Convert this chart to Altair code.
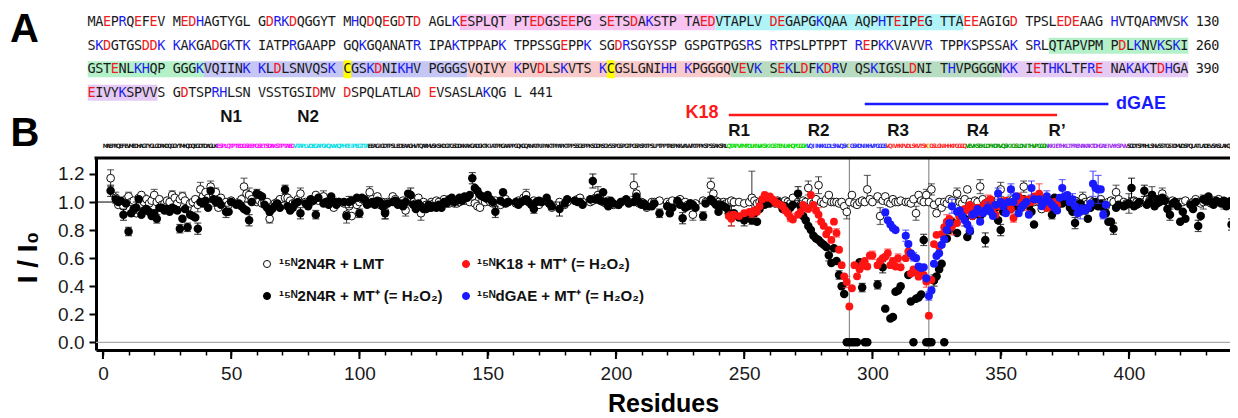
import altair as alt
import pandas as pd

# ---------------- data ----------------
seq_lines = [
    "MAEPRQEFEV MEDHAGTYGL GDRKDQGGYT MHQDQEGDTD AGLKESPLQT PTEDGSEEPG SETSDAKSTP TAEDVTAPLV DEGAPGKQAA AQPHTEIPEG TTAEEAGIGD TPSLEDEAAG HVTQARMVSK",
    "SKDGTGSDDK KAKGADGKTK IATPRGAAPP GQKGQANATR IPAKTPPAPK TPPSSGEPPK SGDRSGYSSP GSPGTPGSRS RTPSLPTPPT REPKKVAVVR TPPKSPSSAK SRLQTAPVPM PDLKNVKSKI",
    "GSTENLKHQP GGGKVQIINK KLDLSNVQSK CGSKDNIKHV PGGGSVQIVY KPVDLSKVTS KCGSLGNIHH KPGGGQVEVK SEKLDFKDRV QSKIGSLDNI THVPGGGNKK IETHKLTFRE NAKAKTDHGA",
    "EIVYKSPVVS GDTSPRHLSN VSSTGSIDMV DSPQLATLAD EVSASLAKQG L",
]
line_ends = ["130", "260", "390", "441"]

region_names = ["N1", "N2", "R1", "R2", "R3", "R4", "R\u2019"]
region_start = [45, 75, 244, 275, 306, 337, 369]
region_end = [74, 103, 274, 305, 336, 368, 399]
region_fill = ["#f8c5f3", "#b0f4f7", "#b4f1c9", "#c6c6f6", "#f8caca", "#b8dcc2", "#e5caf5"]
region_ink = ["#ff00ff", "#00dde6", "#00dd00", "#2b2bff", "#ff2222", "#009a00", "#a030f0"]
cys_res = [291, 322]

# 2N4R + MT+ (filled black), residues 1..441 (None = not observed)
mt_vals = [
    None, None, 1.08, None, 1.02, 1.00, 1.01, 0.91, 0.99, 0.79,
    0.92, 0.95, 0.96, 1.02, 0.91, 0.94, 0.95, 0.93, 0.90, 0.92,
    0.88, 0.96, 0.96, 0.94, 0.95, 0.93, 0.96, 0.95, 0.94, 0.81,
    0.88, 0.95, 0.82, 0.91, 0.90, 0.89, 0.81, 1.00, 0.99, 1.01,
    0.96, 1.08, 1.02, 1.00, 1.01, 0.98, None, 0.93, 0.93, 1.00,
    None, 0.98, 0.99, 0.97, 0.95, 0.94, 0.87, 1.00, None, 1.06,
    1.05, 1.04, 0.98, 0.96, 0.93, 0.95, 0.97, 0.99, 0.96, None,
    1.09, 0.97, 0.94, 0.96, 0.99, 1.00, 0.92, None, 0.99, 0.97,
    1.02, 1.01, 0.91, 1.03, None, 0.99, 1.00, 0.98, 1.04, 1.00,
    0.98, 1.00, None, 1.00, 0.90, 1.00, 1.01, None, 1.03, 0.92,
    1.03, 1.02, 0.98, 0.99, 1.00, 0.98, 1.01, 1.00, 0.97, 0.92,
    0.99, None, 1.00, 1.01, 0.98, 0.99, 0.97, 1.00, 1.06, 1.05,
    0.98, 0.95, 0.99, 0.97, 0.95, 0.95, 0.98, 0.96, 0.97, 0.96,
    0.98, 0.96, 1.00, 0.99, 1.02, 1.03, 1.00, 1.01, 1.03, 1.01,
    1.04, 1.03, 1.05, 1.17, 1.10, 1.08, 1.05, 1.04, 1.03, 1.05,
    1.02, 1.00, 0.93, None, 1.01, 1.07, 0.99, 1.00, None, None,
    1.00, 0.98, 1.00, 1.01, 1.02, 1.00, 0.98, 0.95, 1.00, 1.01,
    1.00, None, 1.03, 0.99, 0.97, None, None, 0.95, None, 0.99,
    1.02, None, None, 1.01, 1.00, 1.00, 0.98, None, None, 1.02,
    1.15, 1.02, 1.03, 1.01, 1.07, 1.00, 0.97, 1.01, 0.99, None,
    0.98, 1.00, None, 1.02, 0.99, None, 1.00, 1.04, 1.00, 0.98,
    0.99, 0.97, None, 0.97, 0.99, None, 0.92, None, None, 0.97,
    0.92, 0.96, None, 1.01, 0.98, 0.885, 0.96, 0.97, 0.99, 0.98,
    0.96, None, None, 0.90, 0.99, None, 1.02, 1.00, 0.98, 0.93,
    0.98, 0.97, 0.96, 0.92, 0.90, 0.92, None, 0.89, None, 0.87,
    None, 0.90, 0.87, 0.92, 0.86, 0.95, 1.00, 0.98, 1.00, 0.99,
    1.01, 1.00, 1.00, 0.98, 0.95, 0.97, 0.94, 0.96, 0.98, None,
    1.06, 0.97, 0.90, 0.87, 0.83, 0.80, 0.76, 0.74, 0.73, 0.71,
    0.695, 0.68, 0.62, 0.565, 0.67, 0.58, 0.48, 0.40, 0.345, 0.0,
    0.0, 0.0, 0.0, 0.0, 0.57, 0.39, 0.0, 0.0, None, None,
    None, 0.41, None, 0.535, 0.24, None, 0.17, 0.18, 0.36, 0.37,
    0.40, None, None, 0.48, 0.29, 0.0, 0.31, 0.32, 0.34, 0.73,
    0.0, 0.0, 0.0, 0.44, 0.47, 0.52, 0.56, 0.0, 0.74, 0.80,
    0.86, None, 0.78, 0.90, 0.92, 0.88, 0.75, 0.79, 0.90, 0.93,
    0.95, 0.90, 0.92, 0.73, 0.95, 0.97, 0.93, 0.96, 0.87, 0.80,
    0.93, 0.96, 0.99, 0.95, 1.00, 0.97, 1.00, 0.96, 1.02, 0.98,
    0.97, 0.93, 0.84, None, 1.02, 0.99, 1.02, 1.00, 1.01, 0.91,
    1.03, 0.98, 1.02, 0.99, 1.01, 1.00, 0.96, 0.93, 0.85, 0.97,
    0.99, 0.96, 0.94, 0.88, 0.96, 0.98, 1.00, 0.97, 0.99, 0.96,
    0.92, 0.86, 0.86, 0.81, 0.96, 0.98, None, 0.97, 0.98, 0.99,
    1.10, 0.97, 0.98, 1.00, None, 1.08, 0.98, 1.00, 1.05, 0.97,
    1.02, 1.00, 1.03, 1.01, 0.95, 0.91, 0.99, 1.00, 0.97, 0.86,
    0.93, 0.88, None, 0.98, 0.95, 1.00, 0.83, 0.90, 1.02, 1.01,
    1.04, 1.00, 0.98, 1.01, 1.00, 0.99, 1.01, 0.97, 1.00, 0.84,
    1.03,
]

# 2N4R + LMT (open circles), residues 1..441
lmt_vals = [
    None, None, 1.17, None, 1.03, 0.98, 1.00, 0.97, 1.02, 1.04,
    1.00, 1.01, 0.92, 1.03, 1.05, 1.00, 1.02, 0.99, 1.01, 1.05,
    1.00, 1.02, 0.98, 0.99, 1.01, 1.00, 1.05, 1.03, 0.99, 1.02,
    1.04, 1.01, 0.96, 0.99, 1.00, 1.02, 0.98, 1.09, 1.04, 1.07,
    1.03, 1.11, 1.05, 1.07, 0.96, 1.03, None, 1.00, 0.98, 1.01,
    None, 0.99, 1.00, 1.02, 1.11, 1.06, 1.05, 1.02, None, 1.00,
    1.01, 0.99, 1.00, 1.00, 0.88, 0.97, 0.99, 1.00, 1.02, None,
    1.03, 1.03, 1.01, 0.99, 1.00, 1.02, 1.06, None, 1.00, 0.98,
    1.00, 1.02, 1.05, 1.01, None, 1.04, 1.00, 0.99, 0.98, 0.96,
    1.00, 1.00, None, 0.99, 0.91, 0.97, 0.90, None, 0.98, 1.00,
    1.02, 1.01, 1.00, 1.07, 1.02, 1.00, 1.04, 0.98, 1.00, 0.93,
    1.00, None, 1.04, 1.02, 1.00, 0.99, 1.01, 0.94, 1.00, 1.02,
    1.00, 0.99, 1.03, 0.92, 1.00, 0.98, 0.96, 1.00, 0.99, 1.01,
    1.00, 0.98, 1.02, 1.00, 0.99, 1.01, 0.99, 0.99, 1.00, 1.02,
    1.01, 1.03, 1.00, 1.04, 0.99, 0.97, 0.96, 1.01, 1.00, 1.02,
    1.00, 0.99, 1.01, None, 0.98, 1.00, 1.02, 1.00, None, None,
    0.99, 1.01, 1.00, 1.03, 1.05, 1.00, 0.99, 1.01, 0.98, 0.98,
    1.00, None, 1.01, 0.99, 0.96, None, None, 1.00, None, 0.98,
    1.00, None, None, 1.01, 1.02, 1.03, 1.00, None, None, 1.00,
    1.01, 1.03, 1.05, 1.02, 1.00, 0.99, 1.01, 1.00, 0.98, None,
    0.98, 1.00, None, 1.01, 1.00, None, 1.12, 1.06, 0.99, 1.00,
    0.98, 0.96, None, 1.00, 1.00, None, 1.01, None, None, 1.00,
    0.99, 1.01, None, 1.00, 1.02, 0.99, 1.00, 0.98, 0.99, 0.91,
    0.99, None, None, 1.01, 1.00, None, 1.12, 1.06, 1.01, 1.00,
    0.99, 1.00, 0.99, 1.00, 1.01, 1.00, None, 1.00, None, 0.99,
    None, 1.00, 1.03, 1.01, 0.99, 1.00, 1.01, 1.00, 0.99, 1.02,
    1.00, 0.99, 1.01, 1.00, 0.98, 1.01, 1.00, 0.99, 1.03, None,
    1.00, 0.98, 1.01, 1.00, 1.10, 1.00, 0.99, 1.02, 1.12, 1.00,
    0.99, 1.02, 1.05, 1.00, 1.00, 1.00, 0.99, 1.00, 0.97, 0.93,
    1.00, 1.05, 0.99, 0.98, 1.00, 1.01, 1.00, 1.09, 1.02, 1.00,
    None, 1.04, 0.90, 1.01, 1.04, 1.00, 0.99, 1.02, 1.00, 1.00,
    1.01, None, 1.00, 1.00, 0.99, 1.02, 0.92, 1.05, 1.01, 1.00,
    1.05, 1.00, 1.09, 0.98, 0.92, 1.00, 0.96, 1.00, 0.99, 1.02,
    1.01, None, 1.06, 1.00, 0.99, 1.02, 1.09, 1.00, 0.98, 1.01,
    1.00, 1.11, 1.02, 0.99, 1.00, 1.01, 0.98, 1.00, 1.02, 1.09,
    1.00, 0.99, 1.01, 1.00, 1.02, 0.99, 1.00, 1.01, 1.11, 1.00,
    0.99, 1.01, 1.00, None, 1.00, 0.95, 1.02, 1.00, 0.99, 1.01,
    1.00, 1.02, 0.99, 1.00, 1.01, 1.00, 0.98, 1.00, 1.01, 0.99,
    1.00, 1.03, 1.00, 0.99, 1.01, 1.00, 0.98, 1.00, 1.02, 0.99,
    0.97, 1.00, 1.01, 1.00, 1.07, 1.02, None, 1.00, 0.99, 0.99,
    1.00, 1.01, 1.00, 0.99, None, 1.00, 1.02, 1.01, 1.05, 1.00,
    0.99, 1.01, 1.06, 1.02, 1.00, 0.99, 1.01, 1.00, 0.99, 1.00,
    1.00, 1.01, None, 0.99, 1.00, 1.02, 1.00, 0.99, 1.00, 1.01,
    1.00, 0.99, 1.01, 1.00, 1.02, 1.00, 0.99, 0.98, 1.00, 1.01,
    1.00,
]

# K18 + MT+ (red), residues 244..372
k18_first = 244
k18_vals = [
    0.90, 0.88, 0.91, None, 0.90, None, 0.92,
    None, 0.93, 0.92, 0.94, 0.93, 0.97, 1.02, 1.05, 1.03, 1.04,
    1.02, 1.00, 0.99, 0.98, 0.97, 0.94, 0.92, 0.89, 0.875, None,
    0.91, 0.93, 0.98, 0.96, 0.95, 1.05, 0.98, 0.94, 0.91, 0.86,
    0.83, 0.77, 0.80, 0.73, 0.86, 0.78, 0.66, 0.55, 0.47, 0.43,
    0.255, 0.385, 0.55, 0.47, 0.52, 0.55, 0.58, 0.54, 0.62, 0.62,
    None, 0.55, 0.58, 0.60, 0.61, 0.635, 0.55, 0.58, 0.54, 0.60,
    0.535, None, 0.60, 0.647, 0.49, 0.52, 0.50, 0.468, 0.49, 0.48,
    0.433, 0.19, 0.445, 0.70, 0.766, 0.683, 0.77, 0.82, 0.86, 0.88,
    0.826, None, 0.85, 0.90, 0.93, 0.95, 0.94, 0.98, 0.90, 0.95,
    0.96, 0.92, 0.97, 0.99, 1.00, 1.02, 0.96, 0.91, 0.97, 1.00,
    0.98, 1.01, 0.99, 0.95, 0.886, 1.00, 1.04, 1.02, 0.99, 0.99,
    1.02, 1.00, 1.04, None, 1.06, 1.02, 0.99, 0.957, 1.00, 0.97,
    1.00, 0.98,
]

# dGAE + MT+ (blue), residues 297..391
dgae_first = 297
dgae_vals = [
    None, None, None, None,
    None, None, None, None, 0.926, 0.87, 0.84, 0.815, 0.80, None,
    None, None, 0.76, 0.70, 0.635, 0.61, 0.60, 0.54, 0.53, 0.535,
    0.456, 0.33, 0.37, 0.56, 0.615, 0.635, 0.695, 0.735, 0.80, 0.85,
    0.97, None, 0.93, 0.94, 0.90, 0.87, 0.84, 0.80, 0.91, 0.92,
    0.95, 0.86, 0.92, 0.94, 0.96, 0.93, 0.90, 0.98, 1.06, 1.00,
    0.97, 0.92, 1.00, 1.09, 1.00, 1.04, 0.92, 0.96, 0.98, 1.00,
    0.91, 1.10, 1.02, None, 1.02, 0.97, 1.00, 1.04, 1.00, 0.98,
    0.96, 0.94, 1.03, 1.10, 1.04, 1.05, 1.00, 1.02, 0.97, 0.92,
    0.93, 0.95, 0.94, 0.96, 0.99, 1.13, 1.10, 1.09, 1.09, 0.91,
    0.98,
]

# error bars (residue, +/- error)
lmt_err_res = [3, 5, 10, 16, 20, 27, 31, 37, 38, 42, 44, 55, 57, 65, 77, 86, 95, 104, 110, 118,
               124, 144, 165, 193, 207, 208, 230, 237, 253, 275, 279, 290, 298, 303, 317, 321, 323, 333, 342, 350,
               359, 382, 395, 400, 409, 413, 429, 437]
lmt_err = [0.06, 0.04, 0.03, 0.05, 0.04, 0.03, 0.03, 0.05, 0.05, 0.04, 0.03, 0.06, 0.05, 0.03, 0.04, 0.04, 0.06, 0.04, 0.05, 0.04,
           0.05, 0.03, 0.04, 0.06, 0.08, 0.05, 0.04, 0.05, 0.19, 0.05, 0.06, 0.05, 0.10, 0.06, 0.05, 0.04, 0.04, 0.04, 0.05, 0.05,
           0.04, 0.04, 0.05, 0.07, 0.06, 0.04, 0.05, 0.04]
mt_err_res = [3, 8, 10, 13, 21, 30, 33, 37, 44, 48, 57, 60, 71, 77, 83, 96, 100, 110, 120, 144,
              153, 168, 178, 191, 217, 226, 234, 245, 250, 271, 283, 287, 296, 302, 304, 320, 324, 336, 344, 350,
              370, 379, 394, 401, 406, 416, 427, 440]
mt_err = [0.04, 0.04, 0.03, 0.04, 0.03, 0.03, 0.03, 0.04, 0.03, 0.04, 0.04, 0.03, 0.03, 0.04, 0.03, 0.04, 0.03, 0.04, 0.05, 0.04,
          0.04, 0.03, 0.05, 0.05, 0.03, 0.04, 0.03, 0.07, 0.04, 0.05, 0.04, 0.03, 0.03, 0.03, 0.04, 0.04, 0.04, 0.05, 0.05, 0.04,
          0.03, 0.04, 0.04, 0.07, 0.04, 0.04, 0.04, 0.04]
k18_err_res = [245, 253, 262, 268, 279, 286, 290, 296, 300, 306, 310, 321, 329, 331, 340, 345, 350, 355, 360, 365]
k18_err = [0.05, 0.03, 0.03, 0.03, 0.05, 0.03, 0.04, 0.03, 0.03, 0.03, 0.03, 0.04, 0.05, 0.06, 0.03, 0.05, 0.03, 0.03, 0.05, 0.07]
dgae_err_res = [313, 316, 322, 331, 338, 345, 349, 354, 362, 368, 374, 378, 381, 386, 388, 390]
dgae_err = [0.04, 0.03, 0.03, 0.05, 0.03, 0.04, 0.04, 0.04, 0.05, 0.04, 0.06, 0.04, 0.05, 0.09, 0.10, 0.03]

legend_labels = ["\u00b9\u2075\u1d3a2N4R + LMT", "\u00b9\u2075\u1d3a2N4R + MT\u207a (= H\u2082O\u2082)",
                 "\u00b9\u2075\u1d3aK18 + MT\u207a (= H\u2082O\u2082)", "\u00b9\u2075\u1d3adGAE + MT\u207a (= H\u2082O\u2082)"]

construct_names = ["K18", "dGAE"]
construct_start = [244, 297]
construct_end = [372, 392]

# ---------------- layout helpers ----------------
W, H = 1134, 192
PX_PER_RES = 2.565
X0 = -2.7
X1 = X0 + W / PX_PER_RES
Y0, Y1 = -0.055, 1.314
xs = alt.Scale(domain=[X0, X1], nice=False, zero=False)
ys = alt.Scale(domain=[Y0, Y1], nice=False, zero=False)
FONT = "Liberation Sans, Arial, sans-serif"

x_axis = alt.Axis(values=list(range(0, 431, 10)), labelExpr="datum.value % 50 === 0 ? datum.label : ''",
                  labelOverlap=False, tickSize=5, tickWidth=1.5, tickColor="black", domainColor="black",
                  domainWidth=3, labelFontSize=19, labelColor="#1a1a1a", labelPadding=9, grid=False,
                  title="Residues", titleFontSize=25, titleFontWeight="bold", titleY=61,
                  titleBaseline="alphabetic", titleColor="black", labelFont=FONT, titleFont=FONT)
y_axis = alt.Axis(values=[0, 0.2, 0.4, 0.6, 0.8, 1.0, 1.2], format=".1f", tickSize=7, tickWidth=2,
                  tickColor="black", domainColor="black", domainWidth=3, labelFontSize=19, labelPadding=5,
                  labelColor="#1a1a1a", grid=False, title="I / I\u2080", titleFontSize=28,
                  titleFontWeight="bold", titleAngle=270, titleX=-68, titleY=99, titleAlign="center",
                  titleBaseline="middle", titleColor="black", labelFont=FONT, titleFont=FONT)


def dx(px):
    return X0 + px * (X1 - X0) / W


def dy(py):
    return Y1 - py * (Y1 - Y0) / H


def X(f):
    return alt.X(f, type="quantitative", scale=xs, axis=x_axis)


def Y(f):
    return alt.Y(f, type="quantitative", scale=ys, axis=y_axis)


# ---------------- panel A (sequence) ----------------
CH_W = 7.75


def col_px(c):
    return -4.4 + CH_W * c


def line_py(l):
    return -135.7 + 23.5 * l


def res_pos(r):
    i = (r - 1) % 130
    return (r - 1) // 130, i + i // 10


full_seq = "".join(s.replace(" ", "") for s in seq_lines)

chars = []
for li, (line, end) in enumerate(zip(seq_lines, line_ends)):
    text = line + " " + end
    for c, ch in enumerate(text):
        if ch == " ":
            continue
        if c < len(line):
            col = "#ee1c1c" if ch in "DE" else ("#1c1cee" if ch in "KRH" else "#1a1a1a")
        else:
            col = "#1a1a1a"
        chars.append({"x": dx(col_px(c)), "y": dy(line_py(li)), "ch": ch, "col": col})
chars_df = pd.DataFrame(chars)

rects = []
for name, s, e, fc in zip(region_names, region_start, region_end, region_fill):
    bylines = {}
    for r in range(s, e + 1):
        l, c = res_pos(r)
        bylines.setdefault(l, []).append(c)
    for l, cs in bylines.items():
        py = line_py(l)
        rects.append({"x": dx(col_px(min(cs)) - CH_W / 2), "x2": dx(col_px(max(cs)) + CH_W / 2),
                      "y": dy(py - 8), "y2": dy(py + 8), "col": fc})
for r in cys_res:
    l, c = res_pos(r)
    py = line_py(l)
    rects.append({"x": dx(col_px(c) - CH_W / 2), "x2": dx(col_px(c) + CH_W / 2),
                  "y": dy(py - 9), "y2": dy(py + 9), "col": "#ffff00"})
rects_df = pd.DataFrame(rects)

rect_layer = alt.Chart(rects_df).mark_rect(opacity=1).encode(
    x=X("x"), x2="x2", y=Y("y"), y2="y2", color=alt.Color("col:N", scale=None))
char_layer = alt.Chart(chars_df).mark_text(font="DejaVu Sans Mono", fontSize=13.5, baseline="middle",
                                           align="center").encode(
    x=X("x"), y=Y("y"), text="ch:N", color=alt.Color("col:N", scale=None))

# ---------------- panel B header ----------------
strip = []
for i, ch in enumerate(full_seq):
    r = i + 1
    col = "#111111"
    for s, e, ink in zip(region_start, region_end, region_ink):
        if s <= r <= e:
            col = ink
    if r in cys_res:
        col = "#d8d800"
    strip.append({"res": r, "y": dy(-12), "ch": ch, "col": col})
strip_df = pd.DataFrame(strip)
strip_layer = alt.Chart(strip_df).mark_text(font="Liberation Sans Narrow, DejaVu Sans Condensed, sans-serif",
                                            fontSize=6, fontWeight="bold", baseline="middle",
                                            align="center").encode(
    x=X("res"), y=Y("y"), text="ch:N", color=alt.Color("col:N", scale=None))

lab_res = [50, 80, 248, 279, 310, 341, 372]
lab_txt = ["N1", "N2", "R1", "R2", "R3", "R4", "R\u2019"]
lab_py = [-41, -41, -27, -27, -27, -27, -27]
labels_df = pd.DataFrame({"res": lab_res, "t": lab_txt, "y": [dy(p) for p in lab_py]})
labels_layer = alt.Chart(labels_df).mark_text(font=FONT, fontSize=17, fontWeight="bold", baseline="middle",
                                              align="center", color="#111").encode(
    x=X("res"), y=Y("y"), text="t:N")

cons_df = pd.DataFrame({"s": construct_start, "e": construct_end, "y": [dy(-43), dy(-54)],
                        "col": ["#ff1a1a", "#1a1aff"]})
cons_layer = alt.Chart(cons_df).mark_rule(strokeWidth=2.5).encode(
    x=X("s"), x2="e", y=Y("y"), color=alt.Color("col:N", scale=None))
k18_lab = alt.Chart(pd.DataFrame({"res": [240], "y": [dy(-45)], "t": [construct_names[0]]})).mark_text(
    font=FONT, fontSize=18, fontWeight="bold", align="right", baseline="middle", color="#ff1a1a").encode(
    x=X("res"), y=Y("y"), text="t:N")
dgae_lab = alt.Chart(pd.DataFrame({"res": [395], "y": [dy(-54)], "t": [construct_names[1]]})).mark_text(
    font=FONT, fontSize=18, fontWeight="bold", align="left", baseline="middle", color="#1a1aff").encode(
    x=X("res"), y=Y("y"), text="t:N")

panel_df = pd.DataFrame({"x": [dx(-71.5), dx(-71)], "y": [dy(-116), dy(-12)], "t": ["A", "B"]})
panel_layer = alt.Chart(panel_df).mark_text(font=FONT, fontSize=40, fontWeight="bold", align="center",
                                            baseline="alphabetic", color="black").encode(
    x=X("x"), y=Y("y"), text="t:N")


# ---------------- panel B data ----------------
def series_df(first, vals):
    rs = [first + i for i, v in enumerate(vals) if v is not None]
    vs = [v for v in vals if v is not None]
    return pd.DataFrame({"res": rs, "val": vs})


def err_dfs(first, vals, eres, errs):
    rows, caps = [], []
    for r, e in zip(eres, errs):
        i = r - first
        if 0 <= i < len(vals) and vals[i] is not None:
            v = vals[i]
            rows.append({"res": r, "lo": v - e, "hi": v + e})
            caps.append({"res": r, "y": v - e})
            caps.append({"res": r, "y": v + e})
    return pd.DataFrame(rows), pd.DataFrame(caps)


def err_layers(first, vals, eres, errs, color):
    bars, caps = err_dfs(first, vals, eres, errs)
    rl = alt.Chart(bars).mark_rule(color=color, strokeWidth=1).encode(x=X("res"), y=Y("lo"), y2="hi")
    tl = alt.Chart(caps).mark_tick(color=color, orient="horizontal", size=7, thickness=1.2).encode(
        x=X("res"), y=Y("y"))
    return [rl, tl]


lmt_df = series_df(1, lmt_vals)
mt_df = series_df(1, mt_vals)
k18_df = series_df(k18_first, k18_vals)
dgae_df = series_df(dgae_first, dgae_vals)

lmt_pts = alt.Chart(lmt_df).mark_point(shape="circle", filled=True, fill="white", stroke="#111",
                                       strokeWidth=1, size=60, opacity=1).encode(x=X("res"), y=Y("val"))
mt_pts = alt.Chart(mt_df).mark_circle(color="black", size=72, opacity=1).encode(x=X("res"), y=Y("val"))
k18_pts = alt.Chart(k18_df).mark_circle(color="#ff1414", size=62, opacity=1).encode(x=X("res"), y=Y("val"))
dgae_pts = alt.Chart(dgae_df).mark_circle(color="#1a1aff", size=66, opacity=1).encode(x=X("res"), y=Y("val"))

one_rule = alt.Chart(pd.DataFrame({"y": [1.0]})).mark_rule(color="black", strokeWidth=1).encode(y=Y("y"))
zero_rule = alt.Chart(pd.DataFrame({"y": [0.0]})).mark_rule(color="#aaaaaa", strokeWidth=1.3).encode(y=Y("y"))
cys_rule = alt.Chart(pd.DataFrame({"x": cys_res})).mark_rule(color="#777777", strokeWidth=1).encode(x=X("x"))

major_df = pd.DataFrame({"t": list(range(0, 401, 50))})
major_ticks = alt.Chart(major_df).mark_rule(color="black", strokeWidth=2).encode(
    x=X("t"), y=alt.value(H), y2=alt.value(H + 9))
top_frame = alt.Chart(pd.DataFrame({"a": [0]})).mark_rule(color="black", strokeWidth=3).encode(
    x=alt.value(-1.5), x2=alt.value(W + 10), y=alt.value(0))

# legend (drawn inside the plot)
leg_df = pd.DataFrame({
    "x": [dx(171), dx(171), dx(370), dx(370)],
    "y": [dy(106), dy(138), dy(106), dy(138)],
    "tx": [dx(183), dx(183), dx(381), dx(381)],
    "label": [legend_labels[0], legend_labels[1], legend_labels[2], legend_labels[3]],
    "fill": ["white", "black", "#ff1414", "#1a1aff"],
    "stroke": ["#111", "black", "#ff1414", "#1a1aff"],
})
leg_sym = alt.Chart(leg_df).mark_point(shape="circle", filled=True, size=50, strokeWidth=1, opacity=1).encode(
    x=X("x"), y=Y("y"), fill=alt.Fill("fill:N", scale=None), stroke=alt.Stroke("stroke:N", scale=None))
leg_txt = alt.Chart(leg_df).mark_text(font=FONT, fontSize=15, fontWeight="bold", align="left",
                                      baseline="middle", color="#111").encode(
    x=X("tx"), y=Y("y"), text="label:N")

layers = [rect_layer, char_layer, strip_layer, labels_layer, cons_layer, k18_lab, dgae_lab, panel_layer,
          zero_rule, one_rule, cys_rule]
layers += err_layers(1, lmt_vals, lmt_err_res, lmt_err, "#333333") + [lmt_pts]
layers += err_layers(1, mt_vals, mt_err_res, mt_err, "black") + [mt_pts]
layers += err_layers(k18_first, k18_vals, k18_err_res, k18_err, "#ff3030") + [k18_pts]
layers += err_layers(dgae_first, dgae_vals, dgae_err_res, dgae_err, "#3030ff") + [dgae_pts]
layers += [leg_sym, leg_txt, major_ticks, top_frame]

chart = alt.layer(*layers).properties(
    width=W, height=H,
    autosize=alt.AutoSizeParams(type="none"),
    padding={"left": 88, "top": 150, "right": 0, "bottom": 68},
).configure_view(strokeWidth=0).configure(font=FONT)

chart.save("out.html", embed_options={"renderer": "svg", "actions": False})
